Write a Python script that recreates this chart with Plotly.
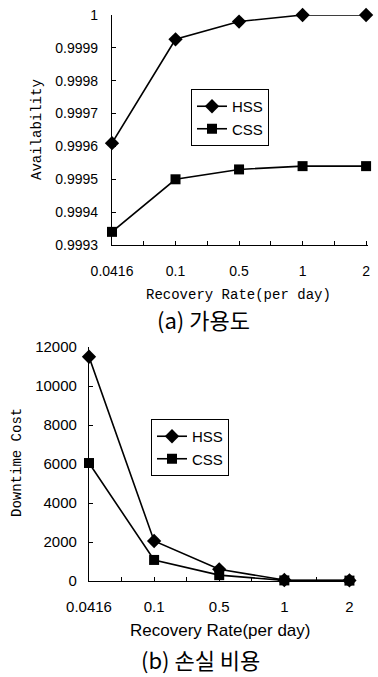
import plotly.graph_objects as go

categories = ["0.0416", "0.1", "0.5", "1", "2"]
avail_hss = [0.99961, 0.999926, 0.99998, 1.0, 1.0]
avail_css = [0.99934, 0.99950, 0.99953, 0.99954, 0.99954]
cost_hss = [11500, 2050, 600, 50, 30]
cost_css = [6050, 1080, 300, 30, 20]

W, H = 378, 677
pos = list(range(len(categories)))
half_ticks = [i / 2 for i in range(2 * (len(categories) - 1) + 1)]
half_text = [categories[int(t)] if t == int(t) else "" for t in half_ticks]

def px_x(p):
    return p / W

def px_y(p):
    return 1 - p / H

fig = go.Figure()
line = dict(color="black", width=1.6)
fig.add_trace(go.Scatter(x=pos, y=avail_hss, name="HSS", mode="lines+markers",
                         line=line, marker=dict(symbol="diamond", size=11, color="black"),
                         xaxis="x", yaxis="y", legend="legend", cliponaxis=False))
fig.add_trace(go.Scatter(x=pos, y=avail_css, name="CSS", mode="lines+markers",
                         line=line, marker=dict(symbol="square", size=10, color="black"),
                         xaxis="x", yaxis="y", legend="legend", cliponaxis=False))
fig.add_trace(go.Scatter(x=pos, y=cost_hss, name="HSS", mode="lines+markers",
                         line=line, marker=dict(symbol="diamond", size=11, color="black"),
                         xaxis="x2", yaxis="y2", legend="legend2", cliponaxis=False))
fig.add_trace(go.Scatter(x=pos, y=cost_css, name="CSS", mode="lines+markers",
                         line=line, marker=dict(symbol="square", size=10, color="black"),
                         xaxis="x2", yaxis="y2", legend="legend2", cliponaxis=False))

tickfont = dict(family="Liberation Sans", size=14, color="black")
common_x = dict(tickmode="array", tickvals=half_ticks, ticktext=half_text,
                showline=True, linecolor="black", linewidth=1.2, ticks="inside",
                ticklen=4, tickcolor="black", showgrid=False, zeroline=False,
                tickfont=tickfont, fixedrange=True, automargin=False)
common_y = dict(showline=True, linecolor="black", linewidth=1.2, ticks="inside",
                ticklen=4, tickcolor="black", showgrid=False, zeroline=False,
                tickfont=tickfont, fixedrange=True, automargin=False)

fig.update_layout(
    width=W, height=H, margin=dict(l=0, r=0, t=0, b=0, autoexpand=False),
    paper_bgcolor="white", plot_bgcolor="white",
    xaxis=dict(common_x, domain=[px_x(112), px_x(368)], range=[0, 4.03], anchor="y",
               ticklabelstandoff=13),
    yaxis=dict(common_y, domain=[px_y(245), px_y(15)], range=[0.9993, 1.0],
               dtick=0.0001, tick0=0.9993, tickformat=".4~f", anchor="x",
               ticklabelstandoff=10),
    xaxis2=dict(common_x, domain=[px_x(89), px_x(354)], range=[0, 4.07], anchor="y2",
                ticklabelstandoff=12,
                tickfont=dict(family="Liberation Sans", size=15, color="black")),
    yaxis2=dict(common_y, domain=[px_y(581), px_y(347)], range=[0, 12000],
                dtick=2000, tickformat="d", anchor="x2", ticklabelstandoff=8,
                tickfont=dict(family="Liberation Sans", size=15, color="black")),
    legend=dict(x=px_x(191), y=px_y(89), xanchor="left", yanchor="top",
                bordercolor="black", borderwidth=1, bgcolor="white",
                font=dict(family="Liberation Sans", size=15, color="black"),
                tracegroupgap=0, itemwidth=30),
    legend2=dict(x=px_x(151), y=px_y(419), xanchor="left", yanchor="top",
                 bordercolor="black", borderwidth=1, bgcolor="white",
                 font=dict(family="Liberation Sans", size=15, color="black"),
                 tracegroupgap=0, itemwidth=30),
    showlegend=True,
)

mono = dict(family="Liberation Mono", size=14, color="black")
anns = [
    dict(text="Recovery Rate(per day)", x=px_x(238), y=px_y(295), font=mono),
    dict(text="Availability", x=px_x(37), y=px_y(130), textangle=-90, font=mono),
    dict(text="(a) 가용도", x=px_x(203), y=px_y(319),
         font=dict(family="Noto Sans CJK KR", size=22, color="black")),
    dict(text="Recovery Rate(per day)", x=px_x(220), y=px_y(630),
         font=dict(family="Liberation Sans", size=17, color="black")),
    dict(text="Downtime Cost", x=px_x(17), y=px_y(463), textangle=-90, font=mono),
    dict(text="(b) 손실 비용", x=px_x(200), y=px_y(659),
         font=dict(family="Noto Sans CJK KR", size=22, color="black")),
]
for a in anns:
    fig.add_annotation(xref="paper", yref="paper", showarrow=False,
                       xanchor="center", yanchor="middle", **a)

fig.write_html("out.html", config={"displayModeBar": False},
               post_script="document.body.style.margin='0';")
